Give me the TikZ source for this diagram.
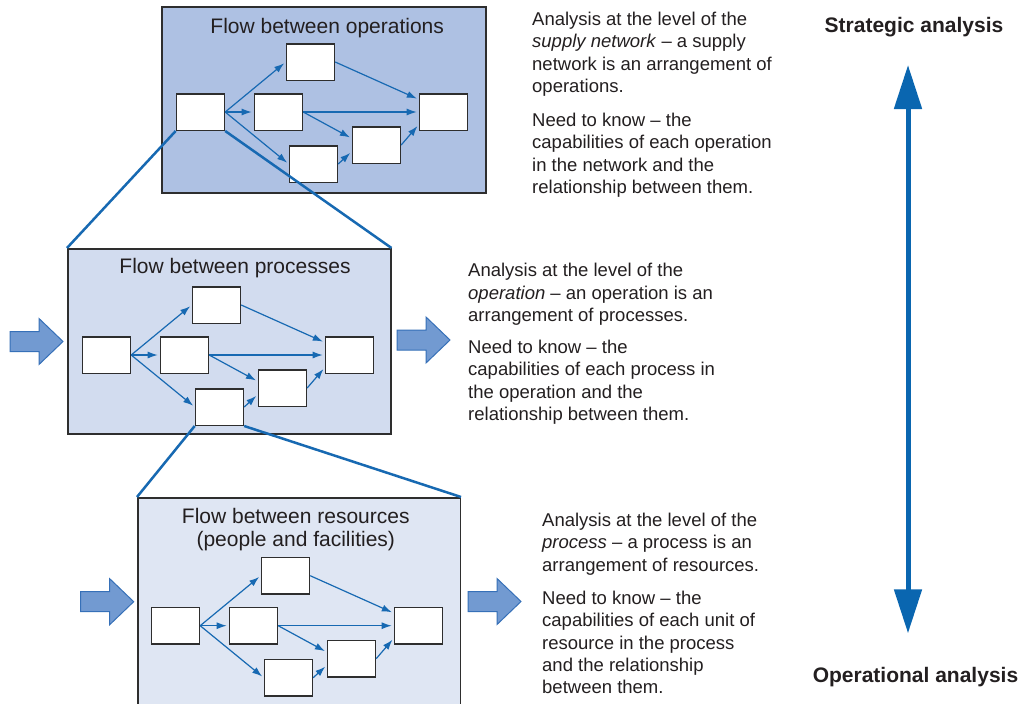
\documentclass[tikz,border=0pt]{standalone}
\usepackage{fontspec}
\setmainfont{Liberation Sans}
\usetikzlibrary{arrows.meta}
\definecolor{ptop}{HTML}{AEC1E3}
\definecolor{pmid}{HTML}{D2DCEF}
\definecolor{pbot}{HTML}{DFE6F3}
\definecolor{flowblue}{HTML}{1769B2}
\definecolor{vblue}{HTML}{0A66B0}
\definecolor{afill}{HTML}{729AD1}
\definecolor{aline}{HTML}{3670B8}
\definecolor{txt}{HTML}{231F20}
\definecolor{frame}{HTML}{2E2E2E}
\begin{document}
\begin{tikzpicture}[x=1pt,y=-1pt,
  panel/.style={draw=frame, line width=1.5pt, anchor=north west, inner sep=0pt},
  nbox/.style={draw=frame, line width=1.5pt, fill=white, anchor=north west, inner sep=0pt, minimum width=48pt, minimum height=36.5pt},
  flow/.style={draw=flowblue, line width=1.2pt, -{Latex[length=10pt,width=7pt]}, shorten >=2pt},
  zoomline/.style={draw=flowblue, line width=2.5pt},
  barrowst/.style={fill=afill, draw=aline, line width=1pt, line join=miter},
  body/.style={font=\fontsize{18.5}{22.4}\selectfont, text=txt, inner sep=0pt, anchor=base west},
  ptitle/.style={font=\fontsize{21}{22}\selectfont, text=txt, inner sep=0pt, anchor=base},
  blabel/.style={font=\fontsize{21}{22}\selectfont\bfseries, text=txt, inner sep=0pt, anchor=base},
  net/.pic={
    \node[nbox] (-a) at (0,0) {};
    \node[nbox] (-b) at (110,-50) {};
    \node[nbox] (-c) at (78,0) {};
    \node[nbox] (-d) at (113,52) {};
    \node[nbox] (-e) at (176,33) {};
    \node[nbox] (-f) at (243,0) {};
    \draw[flow] (-a.east) -- (-b.west);
    \draw[flow] (-a.east) -- (-c.west);
    \draw[flow] (-a.east) -- (-d.west);
    \draw[flow] (-b.east) -- (-f.153);
    \draw[flow] (-c.east) -- (-f.west);
    \draw[flow] (-c.east) -- (-e.165);
    \draw[flow] (-d.east) -- (-e.195);
    \draw[flow] (-e.east) -- (-f.207);
  },
  barrow/.pic={
    \draw[barrowst] (0,-10) -- (29,-10) -- (29,-23) -- (53,0) -- (29,23) -- (29,10) -- (0,10) -- cycle;
  }
]
\useasboundingbox (0,0) rectangle (1021,704);
\clip (0,0) rectangle (1021,704);
\fill[white] (0,0) rectangle (1021,704);

% panels
\node[panel, fill=ptop, minimum width=324pt, minimum height=186pt] (p1) at (161,6) {};
\node[panel, fill=pmid, minimum width=323pt, minimum height=185pt] (p2) at (67,248) {};
\node[panel, fill=pbot, minimum width=322.5pt, minimum height=240pt] (p3) at (137,497) {};

% titles
\node[ptitle] (t1) at (327.2,33.3) {Flow between operations};
\node[ptitle] (t2) at (235,273.3) {Flow between processes};
\node[ptitle] (t3a) at (295.8,523.3) {Flow between resources};
\node[ptitle] (t3b) at (295.8,546) {(people and facilities)};

% networks
\pic (top) at (175.7,93) {net};
\pic (mid) at (81.7,336) {net};
\pic (bot) at (150.7,606.7) {net};

% zoom connectors
\draw[zoomline] (top-a.south west) -- (p2.north west);
\draw[zoomline] (top-a.south east) -- (p2.north east);
\draw[zoomline] (mid-d.south west) -- (p3.north west);
\draw[zoomline] (mid-d.south east) -- (p3.north east);

% block arrows
\pic at (10,341.5) {barrow};
\pic at (397,340) {barrow};
\pic at (80.7,601.7) {barrow};
\pic at (468,601.5) {barrow};

% vertical double arrow
\coordinate (vt) at (908,65);
\coordinate (vb) at (908,633.3);
\draw[vblue, line width=5pt, {Triangle[length=44pt,width=27pt]}-{Triangle[length=44pt,width=27pt]}] (vt) -- (vb);
\node[blabel] (strat) at (914,32.3) {Strategic analysis};
\node[blabel] (oper) at (915.5,682.3) {Operational analysis};

% text block 1
\foreach \t [count=\i from 0] in {Analysis at the level of the, {\textit{supply network} – a supply}, network is an arrangement of, operations.}
  \node[body] (a1-\i) at (532,25.5+22.4*\i) {\t};
\foreach \t [count=\i from 0] in {Need to know – the, capabilities of each operation, in the network and the, relationship between them.}
  \node[body] (b1-\i) at (532,126.5+22.4*\i) {\t};

% text block 2
\foreach \t [count=\i from 0] in {Analysis at the level of the, {\textit{operation} – an operation is an}, arrangement of processes.}
  \node[body] (a2-\i) at (468,276.6+22.4*\i) {\t};
\foreach \t [count=\i from 0] in {Need to know – the, capabilities of each process in, the operation and the, relationship between them.}
  \node[body] (b2-\i) at (468,353.3+22.4*\i) {\t};

% text block 3
\foreach \t [count=\i from 0] in {Analysis at the level of the, {\textit{process} – a process is an}, arrangement of resources.}
  \node[body] (a3-\i) at (542,526.5+22.4*\i) {\t};
\foreach \t [count=\i from 0] in {Need to know – the, capabilities of each unit of, resource in the process, and the relationship, between them.}
  \node[body] (b3-\i) at (542,604.2+22.4*\i) {\t};
\end{tikzpicture}
\end{document}
